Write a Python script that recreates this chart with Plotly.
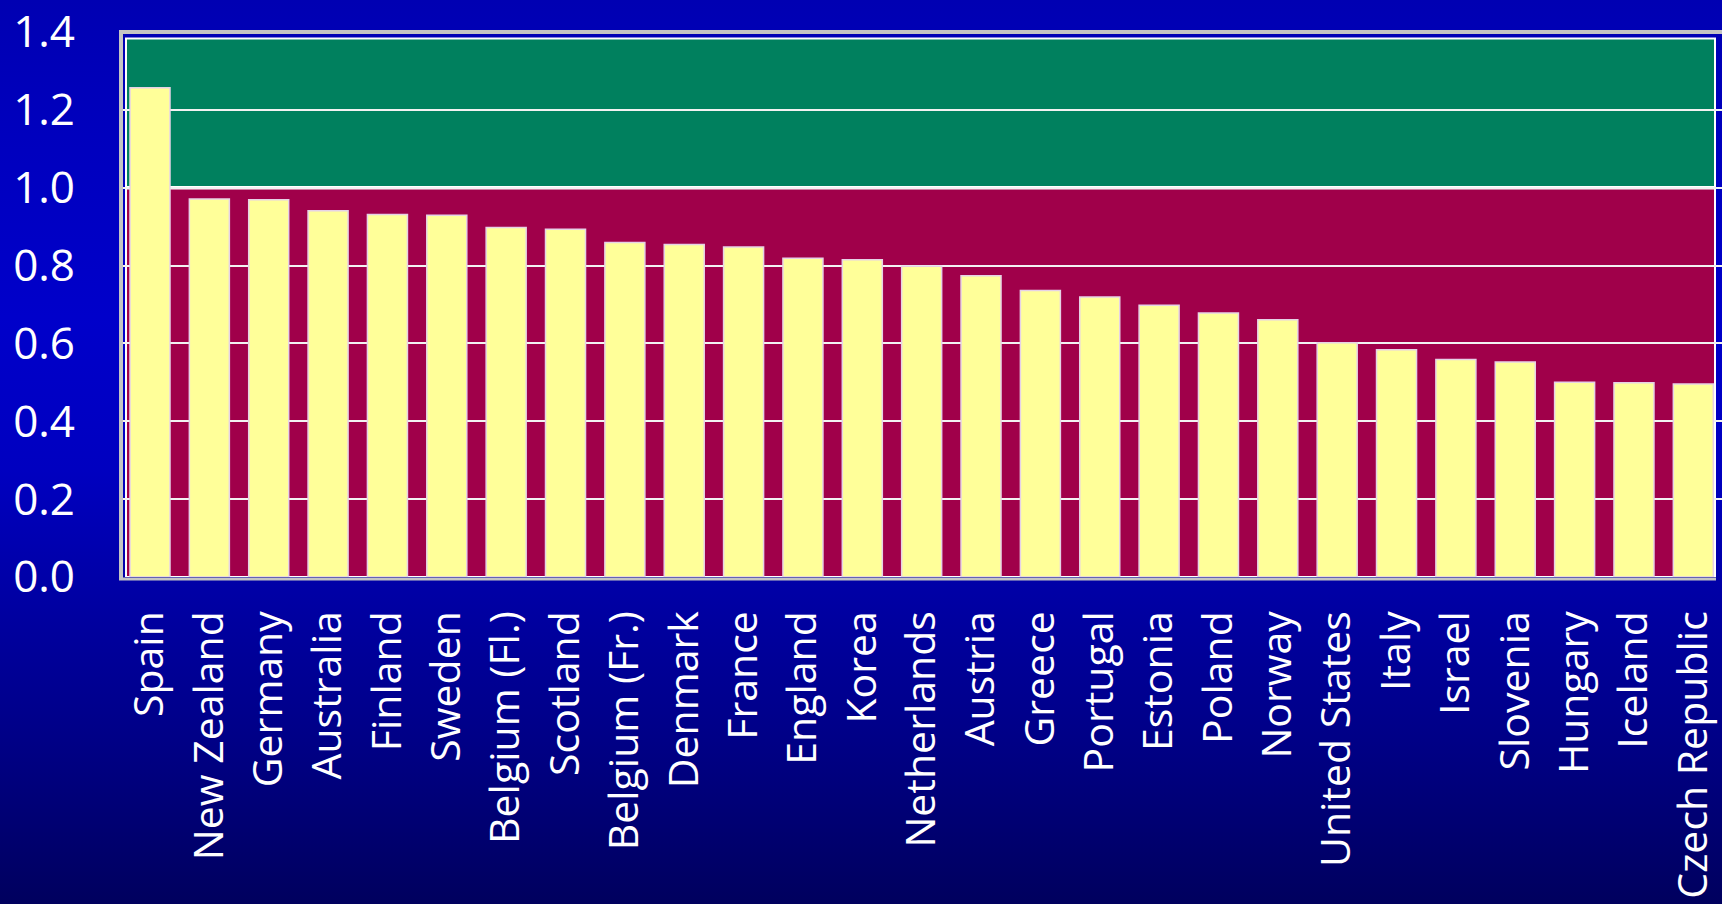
import base64
import plotly.graph_objects as go

# Countries and their ratio values
countries = [
    "Spain", "New Zealand", "Germany", "Australia", "Finland", "Sweden",
    "Belgium (Fl.)", "Scotland", "Belgium (Fr.)", "Denmark", "France",
    "England", "Korea", "Netherlands", "Austria", "Greece", "Portugal",
    "Estonia", "Poland", "Norway", "United States", "Italy", "Israel",
    "Slovenia", "Hungary", "Iceland", "Czech Republic",
]
values = [
    1.257, 0.971, 0.969, 0.941, 0.931, 0.929,
    0.898, 0.893, 0.859, 0.854, 0.848,
    0.819, 0.815, 0.798, 0.774, 0.736, 0.719,
    0.698, 0.678, 0.661, 0.602, 0.584, 0.559,
    0.552, 0.500, 0.499, 0.496,
]
y_ticks = [0.0, 0.2, 0.4, 0.6, 0.8, 1.0, 1.2, 1.4]
y_tick_text = ["0.0", "0.2", "0.4", "0.6", "0.8", "1.0", "1.2", "1.4"]

W, H = 1722, 904
L, R, T, B = 122, 0, 32, 327
PW = W - L - R
PH = H - T - B


def px_x(px):
    """Horizontal pixel position -> paper coordinate."""
    return (px - L) / PW


def px_y(py):
    """Vertical pixel position -> paper coordinate."""
    return (H - B - py) / PH


FONT = "Open Sans"
YELLOW = "#FFFF99"
CRIMSON = "#A0004A"
GREEN = "#00805E"
GRAY = "#C4C4C4"

# Vertical blue gradient for the slide background
svg = (
    '<svg xmlns="http://www.w3.org/2000/svg" width="1722" height="904" '
    'preserveAspectRatio="none"><defs><linearGradient id="g" x1="0" y1="0" '
    'x2="0" y2="1">'
    '<stop offset="0" stop-color="#0000B2"/>'
    '<stop offset="0.15" stop-color="#0000BE"/>'
    '<stop offset="0.35" stop-color="#0000CA"/>'
    '<stop offset="0.52" stop-color="#0000C0"/>'
    '<stop offset="0.65" stop-color="#0000A6"/>'
    '<stop offset="0.82" stop-color="#000086"/>'
    '<stop offset="1" stop-color="#00005E"/>'
    '</linearGradient></defs>'
    '<rect width="1722" height="904" fill="url(#g)"/></svg>'
)
bg_src = "data:image/svg+xml;base64," + base64.b64encode(svg.encode()).decode()

fig = go.Figure(
    go.Bar(
        x=countries,
        y=values,
        marker=dict(color=YELLOW, line=dict(color="#E6D2E6", width=1.5)),
        width=0.674,
        hoverinfo="x+y",
    )
)

shapes = [
    # crimson band below 1.0
    dict(type="rect", xref="paper", yref="y", x0=px_x(127), x1=px_x(1715),
         y0=0, y1=1.0, fillcolor=CRIMSON, line=dict(width=0), layer="below"),
    # green band above 1.0
    dict(type="rect", xref="paper", yref="y", x0=px_x(127), x1=px_x(1715),
         y0=1.0, y1=1.383, fillcolor=GREEN, line=dict(width=0), layer="below"),
    # inner white frame
    dict(type="rect", xref="paper", yref="y", x0=px_x(126), x1=px_x(1715),
         y0=0, y1=1.383, line=dict(color="white", width=2), layer="below"),
    # white divider at 1.0
    dict(type="line", xref="paper", yref="y", x0=px_x(127), x1=px_x(1715),
         y0=1.0, y1=1.0, line=dict(color="white", width=3.5), layer="below"),
    # outer gray frame
    dict(type="line", xref="paper", yref="paper", x0=px_x(121), x1=px_x(121),
         y0=px_y(580), y1=px_y(30), line=dict(color=GRAY, width=4), layer="above"),
    dict(type="line", xref="paper", yref="paper", x0=px_x(119), x1=1,
         y0=px_y(32), y1=px_y(32), line=dict(color=GRAY, width=4), layer="above"),
    dict(type="line", xref="paper", yref="paper", x0=px_x(119), x1=px_x(1716),
         y0=px_y(579), y1=px_y(579), line=dict(color=GRAY, width=3), layer="above"),
]

fig.update_layout(
    width=W,
    height=H,
    margin=dict(l=L, r=R, t=T, b=B, pad=0),
    paper_bgcolor="#0000A8",
    plot_bgcolor="rgba(0,0,0,0)",
    showlegend=False,
    bargap=0.326,
    font=dict(family=FONT, color="white"),
    images=[dict(source=bg_src, xref="paper", yref="paper",
                 x=px_x(0), y=px_y(0), sizex=W / PW, sizey=H / PH,
                 xanchor="left", yanchor="top", sizing="stretch",
                 layer="below")],
    shapes=shapes,
    xaxis=dict(
        range=[-0.4717, 26.483],
        showgrid=False,
        showline=False,
        zeroline=False,
        ticks="",
        tickangle=-90,
        tickfont=dict(family=FONT, size=41, color="white"),
        ticklabelstandoff=25,
        fixedrange=True,
    ),
    yaxis=dict(
        range=[0, 1.4],
        tickvals=y_ticks,
        ticktext=y_tick_text,
        showgrid=True,
        gridcolor="#F2F2F2",
        gridwidth=2,
        zeroline=False,
        showline=False,
        ticks="",
        tickfont=dict(family=FONT, size=44, color="white"),
        ticklabelstandoff=46,
        fixedrange=True,
    ),
)

fig.write_html("out.html")
